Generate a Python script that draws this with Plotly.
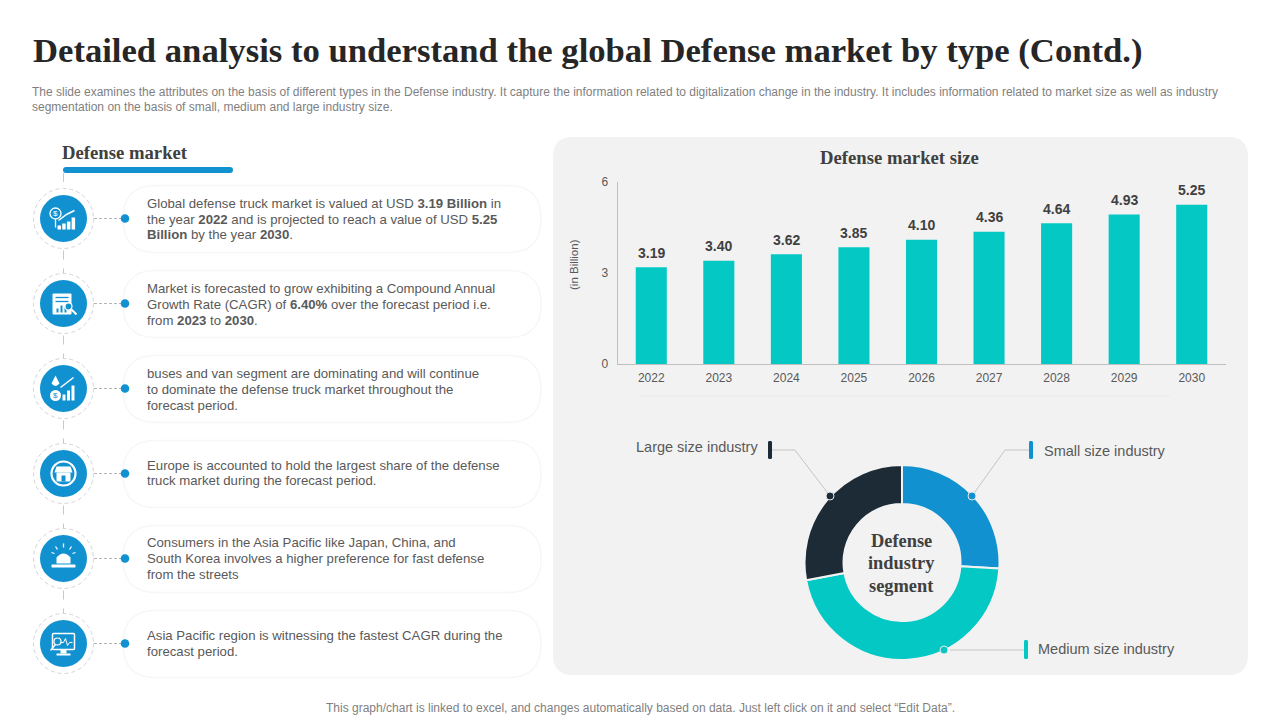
import re
import plotly.graph_objects as go

W, H = 1280, 720
TITLE = "Detailed analysis to understand the global Defense market by type (Contd.)"
SUBTITLE = [
    "The slide examines the attributes on the basis of different types in the Defense industry. It capture the information related to digitalization change in the industry. It includes information related to market size as well as industry",
    "segmentation on the basis of small, medium and large industry size.",
]
FOOTER = "This graph/chart is linked to excel, and changes automatically based on data. Just left click on it and select “Edit Data”."
years = ["2022", "2023", "2024", "2025", "2026", "2027", "2028", "2029", "2030"]
market_size = [3.19, 3.40, 3.62, 3.85, 4.10, 4.36, 4.64, 4.93, 5.25]
segment_labels = ["Small size industry", "Medium size industry", "Large size industry"]
segment_values = [26, 46.1, 27.9]
bullets = [
    ["Global defense truck market is valued at USD <b>3.19 Billion</b> in", "the year <b>2022</b> and is projected to reach a value of USD <b>5.25</b>", "<b>Billion</b> by the year <b>2030</b>."],
    ["Market is forecasted to grow exhibiting a Compound Annual", "Growth Rate (CAGR) of <b>6.40%</b> over the forecast period i.e.", "from <b>2023</b> to <b>2030</b>."],
    ["buses and van segment are dominating and will continue", "to dominate the defense truck market throughout the", "forecast period."],
    ["Europe is accounted to hold the largest share of the defense", "truck market during the forecast period."],
    ["Consumers in the Asia Pacific like Japan, China, and", "South Korea involves a higher preference for fast defense", "from the streets"],
    ["Asia Pacific region is witnessing the fastest CAGR during the", "forecast period."],
]

BLUE, TEAL, DARK, PANEL = "#1191d0", "#04c8c4", "#1c2b36", "#f2f2f2"
SERIF, SANS = "Liberation Serif", "Liberation Sans"
fx = lambda x: x / W
fy = lambda y: 1 - y / H
shapes, annos = [], []


def path_paper(d):
    return re.sub(r"(-?[\d.]+),(-?[\d.]+)", lambda m: f"{fx(float(m[1])):.5f},{fy(float(m[2])):.5f}", d)


def add_path(d, fill=None, line=None, lw=0, dash=None, layer="below"):
    shapes.append(dict(type="path", xref="paper", yref="paper", path=path_paper(d), layer=layer,
                       fillcolor=fill or "rgba(0,0,0,0)",
                       line=dict(color=line or "rgba(0,0,0,0)", width=lw, dash=dash or "solid")))


def rrect(x0, y0, x1, y1, r):
    return (f"M{x0 + r},{y0} L{x1 - r},{y0} Q{x1},{y0} {x1},{y0 + r} L{x1},{y1 - r} Q{x1},{y1} {x1 - r},{y1} "
            f"L{x0 + r},{y1} Q{x0},{y1} {x0},{y1 - r} L{x0},{y0 + r} Q{x0},{y0} {x0 + r},{y0} Z")


def circle(cx, cy, r, fill=None, line=None, lw=0, dash=None, layer="below"):
    shapes.append(dict(type="circle", xref="paper", yref="paper", x0=fx(cx - r), x1=fx(cx + r), y0=fy(cy + r), y1=fy(cy - r),
                       layer=layer, fillcolor=fill or "rgba(0,0,0,0)",
                       line=dict(color=line or "rgba(0,0,0,0)", width=lw, dash=dash or "solid")))


def seg(x0, y0, x1, y1, color, lw=1, dash=None, layer="below"):
    shapes.append(dict(type="line", xref="paper", yref="paper", x0=fx(x0), x1=fx(x1), y0=fy(y0), y1=fy(y1), layer=layer,
                       line=dict(color=color, width=lw, dash=dash or "solid")))


def text(x, y, s, size, color, family=SANS, anchor="left", angle=0):
    annos.append(dict(xref="paper", yref="paper", x=fx(x), y=fy(y), text=s, showarrow=False, xanchor=anchor, yanchor="middle",
                      font=dict(size=size, color=color, family=family), textangle=angle, borderpad=0, borderwidth=0))


def bars_icon(cx, cy, heights, w=3.5, gap=1.5, base=10):
    x = cx
    for h in heights:
        add_path(f"M{x},{cy + base} L{x + w},{cy + base} L{x + w},{cy + base - h} L{x},{cy + base - h} Z", fill="white")
        x += w + gap


def icon(i, cx, cy):
    if i == 0:
        circle(cx - 8, cy - 5, 5.5, line="white", lw=1.3)
        text(cx - 8, cy - 5, "$", 8, "white", anchor="center")
        seg(cx - 8, cy + 1, cx - 8, cy + 9, "white", 1.3)
        bars_icon(cx - 6, cy, [4, 6, 8, 12], w=3.5, gap=1.2, base=11)
        add_path(f"M{cx - 5},{cy + 2} L{cx + 3},{cy - 4} L{cx + 11},{cy - 8}", line="white", lw=1.5)
    elif i == 1:
        add_path(rrect(cx - 11, cy - 10, cx + 8, cy + 11, 1), fill="white")
        add_path(f"M{cx - 8},{cy - 6} L{cx + 5},{cy - 6}", line=BLUE, lw=1.3)
        add_path(f"M{cx - 8},{cy - 2} L{cx + 5},{cy - 2}", line=BLUE, lw=1.3)
        for k, h in enumerate([4, 7, 5]):
            add_path(f"M{cx - 7 + k * 4},{cy + 9} L{cx - 5 + k * 4},{cy + 9} L{cx - 5 + k * 4},{cy + 9 - h} L{cx - 7 + k * 4},{cy + 9 - h} Z", fill=BLUE)
        circle(cx + 5, cy + 3, 3.5, fill=BLUE, line="white", lw=1.2)
        seg(cx + 8, cy + 6, cx + 13, cy + 11, "white", 2)
    elif i == 2:
        add_path(f"M{cx - 8},{cy - 13} L{cx - 4},{cy - 5} Q{cx - 8},{cy} {cx - 12},{cy - 5} Z", fill="white")
        circle(cx - 8, cy + 7, 5.5, fill="white")
        text(cx - 8, cy + 7, "$", 8, BLUE, anchor="center")
        bars_icon(cx - 1, cy, [6, 10, 15], w=3, gap=1.5, base=12)
        add_path(f"M{cx - 3},{cy - 1} L{cx + 10},{cy - 11}", line="white", lw=1.5)
    elif i == 3:
        circle(cx, cy, 12, line="white", lw=2.2)
        add_path(f"M{cx - 7},{cy - 7} L{cx + 7},{cy - 7} L{cx + 9},{cy - 1} L{cx - 9},{cy - 1} Z", fill="white")
        add_path(rrect(cx - 7, cy - 1, cx + 7, cy + 8, 1), fill="white")
        add_path(rrect(cx - 2, cy + 2, cx + 2, cy + 8, 0.5), fill=BLUE)
    elif i == 4:
        add_path(f"M{cx - 7},{cy + 5} L{cx - 7},{cy - 1} Q{cx},{cy - 9} {cx + 7},{cy - 1} L{cx + 7},{cy + 5} Z", fill="white")
        add_path(rrect(cx - 12, cy + 6, cx + 12, cy + 9, 0.5), fill="white")
        for a, b, c, d in [(0, -15, 0, -11), (-8, -12, -6, -9), (8, -12, 6, -9), (-12, -6, -9, -5), (12, -6, 9, -5)]:
            seg(cx + a, cy + b, cx + c, cy + d, "white", 1.3)
    else:
        add_path(rrect(cx - 11, cy - 10, cx + 11, cy + 6, 1), line="white", lw=1.5)
        add_path(f"M{cx - 3},{cy - 1} L{cx},{cy - 1} L{cx + 2},{cy - 5} L{cx + 4},{cy + 2} L{cx + 6},{cy - 1} L{cx + 9},{cy - 1}", line="white", lw=1)
        circle(cx - 6, cy - 2, 3.5, line="white", lw=1.2)
        seg(cx - 8, cy + 1, cx - 13, cy + 7, "white", 1.3)
        add_path(f"M{cx - 3},{cy + 6} L{cx + 3},{cy + 6} L{cx + 3},{cy + 10} L{cx - 3},{cy + 10} Z", fill="white")
        seg(cx - 7, cy + 11, cx + 7, cy + 11, "white", 2)


# right-hand panel
add_path(rrect(553, 137, 1248, 675, 20), fill=PANEL)
seg(640, 396, 1170, 396, "#ebebeb", 1)

# left column
text(62, 152.5, "<b>Defense market</b>", 18.7, "#404040", SERIF)
add_path(rrect(63, 167, 233, 173, 3), fill=BLUE)
line_centres = [[203, 219, 235], [288, 304, 320], [373, 389, 405], [465, 481], [542, 558, 574], [635, 651]]
cx0 = 63.5
seg(cx0, 173, cx0, 190, "#c8c8c8", 1, "dash")
for i, lines in enumerate(bullets):
    cy = 218.5 + 85 * i
    add_path(rrect(123, cy - 33, 541, cy + 34, 33), fill="white", line="#f7f7f7", lw=1.5)
    if i < 5:
        seg(cx0, cy + 32, cx0, cy + 55, "#c8c8c8", 1, "dash")
    circle(cx0, cy, 30, fill="white", line="#d4d4d4", lw=1, dash="4px,3px")
    circle(cx0, cy, 23.5, fill=BLUE)
    icon(i, cx0, cy)
    seg(94, cy, 122, cy, "#b5b5b5", 1, "3px,2px")
    circle(125, cy, 4.3, fill=BLUE)
    for s, y in zip(lines, line_centres[i]):
        text(147, y, s, 13.2, "#595959")

# leader lines and markers of the doughnut
add_path("M772,450 L795,450 L830,496", line="#c4c4c4", lw=1)
add_path("M1029,450 L1005,450 L972,496", line="#c4c4c4", lw=1)
seg(950, 650, 1024, 650, "#c4c4c4", 1)
add_path(rrect(768, 441, 772, 459, 1.5), fill=DARK)
add_path(rrect(1029, 441, 1033, 459, 1.5), fill=BLUE)
add_path(rrect(1024, 640, 1028, 659, 1.5), fill=TEAL)
circle(830, 496, 4, fill=DARK, line="#e8e8e8", lw=1, layer="above")
circle(972, 496, 4, fill=BLUE, line="#e8e8e8", lw=1, layer="above")
circle(944, 650, 4, fill=TEAL, line="#e8e8e8", lw=1, layer="above")

text(33, 51, f"<b>{TITLE}</b>", 34.65, "#262626", SERIF)
text(32, 92, SUBTITLE[0], 12, "#7f7f7f")
text(32, 107, SUBTITLE[1], 12, "#7f7f7f")
text(640, 708, FOOTER, 12, "#7f7f7f", anchor="center")
text(899, 157.5, "<b>Defense market size</b>", 18.7, "#404040", SERIF, anchor="center")
text(574, 265, "(in Billion)", 11.5, "#595959", anchor="center", angle=-90)
text(636, 447, segment_labels[2], 14.5, "#595959")
text(1044, 451, segment_labels[0], 14.5, "#595959")
text(1038, 649, segment_labels[1], 14.5, "#595959")
for s, y in zip(["Defense", "industry", "segment"], [541, 563, 586]):
    text(901, y, f"<b>{s}</b>", 18.4, "#404040", SERIF, anchor="center")

# value labels, anchored to the bar values on the chart's own axes (category index on x)
for k, v in enumerate(market_size):
    annos.append(dict(xref="x", yref="y", x=k, y=v, text=f"<b>{v:.2f}</b>", showarrow=False, yanchor="middle", xanchor="center",
                      yshift=14.5, font=dict(size=14, color="#404040", family=SANS)))

fig = go.Figure()
fig.add_trace(go.Bar(x=years, y=market_size, marker=dict(color=TEAL, line=dict(width=0)), hoverinfo="x+y"))
fig.add_trace(go.Pie(labels=segment_labels, values=segment_values, hole=0.6, sort=False, direction="clockwise", rotation=0,
                     marker=dict(colors=[BLUE, TEAL, DARK], line=dict(color=PANEL, width=2)),
                     textinfo="none", showlegend=False,
                     domain=dict(x=[fx(902 - 97.5), fx(902 + 97.5)], y=[fy(562.5 + 97.5), fy(562.5 - 97.5)])))
fig.update_layout(
    width=W, height=H, autosize=False, margin=dict(l=0, r=0, t=0, b=0, pad=0, autoexpand=False), paper_bgcolor="white", plot_bgcolor="rgba(0,0,0,0)",
    showlegend=False, bargap=0.54, shapes=shapes, annotations=annos, font=dict(family=SANS),
    xaxis=dict(type="category", categoryorder="array", categoryarray=years, range=[-0.5, 8.5], domain=[fx(617.5), fx(1225.5)],
               showgrid=False, showline=True, linecolor="#bfbfbf", linewidth=1, ticks="",
               tickfont=dict(size=12, color="#595959"), ticklabelstandoff=3, anchor="y", fixedrange=True),
    yaxis=dict(domain=[fy(364), fy(182)], range=[0, 6], tickvals=[0, 3, 6], showgrid=False, zeroline=False, showline=True,
               linecolor="#bfbfbf", linewidth=1, ticks="", tickfont=dict(size=12, color="#595959"), ticklabelstandoff=6,
               anchor="x", fixedrange=True),
)
fig.write_html("out.html", post_script="document.body.style.margin='0';", config=dict(displayModeBar=False))
